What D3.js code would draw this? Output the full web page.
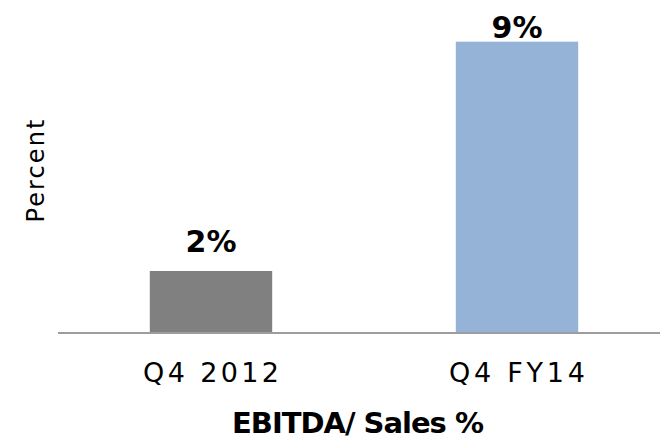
<!DOCTYPE html>
<html>
<head>
<meta charset="utf-8">
<script src="https://cdn.jsdelivr.net/npm/d3@7"></script>
<style>
  body { margin: 0; background: #fff; }
  svg { display: block; }
</style>
</head>
<body>
<svg></svg>
<script>
// data
const categories = ["Q4 2012", "Q4 FY14"];
const values = [1.98, 9.42];
const valueLabels = ["2%", "9%"];
const barColors = ["#808080", "#95B3D7"];

let width = 660;
let height = 439;
let baseY = 332;

const svg = d3.select("svg")
  .attr("width", width)
  .attr("height", height);

let xScale = d3.scaleBand()
  .domain(categories)
  .range([58, 670])
  .paddingInner(0.6)
  .paddingOuter(0.3);

let yScale = d3.scaleLinear()
  .domain([0, 10])
  .range([baseY, 23.8]);

const data = categories.map((c, i) => ({ cat: c, v: values[i], label: valueLabels[i], color: barColors[i] }));

svg.selectAll("rect.bar")
  .data(data)
  .enter()
  .append("rect")
  .attr("class", "bar")
  .attr("x", d => xScale(d.cat))
  .attr("width", xScale.bandwidth())
  .attr("y", d => yScale(d.v))
  .attr("height", d => baseY - yScale(d.v))
  .attr("fill", d => d.color);

// x axis: just the baseline and category labels
let xAxis = d3.axisBottom(xScale).tickSize(0).tickPadding(0);
const gx = svg.append("g")
  .attr("transform", "translate(0," + (baseY + 1) + ")")
  .call(xAxis);
gx.select(".domain").remove();
gx.append("line")
  .attr("x1", 58).attr("x2", width)
  .attr("stroke", "#9D9D9D")
  .attr("stroke-width", 2);
gx.selectAll(".tick text")
  .attr("dy", null)
  .attr("y", 49)
  .attr("fill", "#000")
  .attr("font-family", "DejaVu Sans")
  .attr("font-size", 27)
  .attr("textLength", 136)
  .attr("lengthAdjust", "spacing");

// value labels above bars
svg.selectAll("text.val")
  .data(data)
  .enter()
  .append("text")
  .attr("class", "val")
  .attr("x", d => xScale(d.cat) + xScale.bandwidth() / 2)
  .attr("y", d => Math.max(yScale(d.v) - 19, 38))
  .attr("text-anchor", "middle")
  .attr("font-family", "DejaVu Sans")
  .attr("font-weight", "bold")
  .attr("font-size", 30)
  .text(d => d.label);

// y axis title
svg.append("text")
  .attr("transform", "translate(44,171) rotate(-90)")
  .attr("text-anchor", "middle")
  .attr("font-family", "DejaVu Sans")
  .attr("font-size", 24)
  .attr("textLength", 103)
  .attr("lengthAdjust", "spacing")
  .text("Percent");

// x axis title
svg.append("text")
  .attr("x", 358)
  .attr("y", 433)
  .attr("text-anchor", "middle")
  .attr("font-family", "DejaVu Sans")
  .attr("font-weight", "bold")
  .attr("font-size", 29)
  .attr("textLength", 252)
  .attr("lengthAdjust", "spacing")
  .text("EBITDA/ Sales %");
</script>
</body>
</html>
